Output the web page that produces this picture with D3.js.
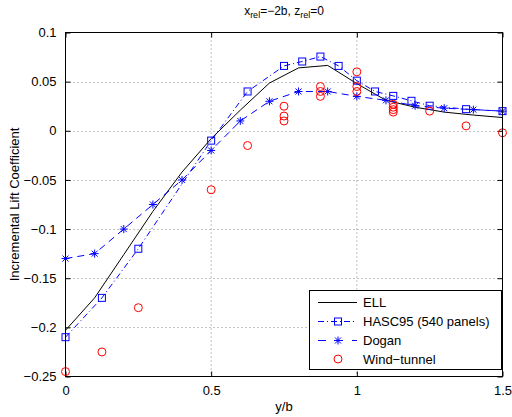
<!DOCTYPE html>
<html><head><meta charset="utf-8">
<script src="https://cdn.jsdelivr.net/npm/d3@7"></script>
<style>body{margin:0;background:#fff}svg{display:block;font-family:"Liberation Sans",Arial,sans-serif}</style>
</head><body>
<script>
const xTicks = [0, 0.5, 1, 1.5];
const yTicks = [0.1, 0.05, 0, -0.05, -0.1, -0.15, -0.2, -0.25];
const yTickLabels = ["0.1", "0.05", "0", "\u22120.05", "\u22120.1", "\u22120.15", "\u22120.2", "\u22120.25"];

const ellX = [0, 0.1, 0.2, 0.3, 0.4, 0.5, 0.6, 0.7, 0.8, 0.9, 1.0, 1.1, 1.2, 1.3, 1.4, 1.5];
const ellY = [-0.203, -0.170, -0.126, -0.082, -0.042, -0.008, 0.021, 0.0486, 0.064, 0.0665, 0.048, 0.031, 0.024, 0.019, 0.016, 0.0135];

const hascX = [0, 0.125, 0.25, 0.5, 0.625, 0.75, 0.8125, 0.875, 0.9375, 1.0, 1.0625, 1.125, 1.1875, 1.25, 1.375, 1.5];
const hascY = [-0.21, -0.17, -0.12, -0.01, 0.04, 0.066, 0.0705, 0.0755, 0.066, 0.051, 0.040, 0.0355, 0.0305, 0.0255, 0.022, 0.020];

const doganX = [0, 0.1, 0.2, 0.3, 0.4, 0.5, 0.6, 0.7, 0.8, 0.9, 1.0, 1.1, 1.2, 1.3, 1.4, 1.5];
const doganY = [-0.13, -0.125, -0.10, -0.075, -0.05, -0.02, 0.01, 0.03, 0.04, 0.04, 0.035, 0.031, 0.0255, 0.023, 0.0215, 0.020];

const windX = [0, 0.125, 0.25, 0.5, 0.625, 0.75, 0.75, 0.75, 0.875, 0.875, 0.875, 1.0, 1.0, 1.0, 1.125, 1.125, 1.125, 1.125, 1.25, 1.375, 1.5];
const windY = [-0.245, -0.225, -0.18, -0.06, -0.015, 0.025, 0.015, 0.01, 0.045, 0.04, 0.035, 0.06, 0.045, 0.04, 0.027, 0.024, 0.0215, 0.019, 0.02, 0.005, -0.002];

const legendLabels = ["ELL", "HASC95 (540 panels)", "Dogan", "Wind\u2212tunnel"];

const W = 512, H = 417;
const L = 65.5, R = 502.5, T = 32.5, B = 376.5;
const svg = d3.select("body").append("svg").attr("width", W).attr("height", H);
const x = d3.scaleLinear().domain([0, 1.5]).range([L, R]);
const y = d3.scaleLinear().domain([-0.25, 0.1]).range([B, T]);

// grid
const g = svg.append("g");
g.selectAll(".gx").data(xTicks.slice(1, -1)).enter().append("line")
  .attr("x1", d => x(d)).attr("x2", d => x(d)).attr("y1", T).attr("y2", B)
  .attr("stroke", "#888").attr("stroke-width", 1).attr("stroke-dasharray", "1,3");
g.selectAll(".gy").data(yTicks.slice(1, -1)).enter().append("line")
  .attr("x1", L).attr("x2", R).attr("y1", d => Math.round(y(d)) + 0.5).attr("y2", d => Math.round(y(d)) + 0.5)
  .attr("stroke", "#888").attr("stroke-width", 1).attr("stroke-dasharray", "1,3");

// axes (ticks inward)
const fs = 13;
const axB = d3.axisBottom(x).tickValues(xTicks).tickSize(-5).tickPadding(9).tickFormat(d3.format("~g"));
const axT = d3.axisTop(x).tickValues(xTicks).tickSize(-5).tickFormat("");
const axL = d3.axisLeft(y).tickValues(yTicks).tickSize(-5).tickPadding(9).tickFormat((d, i) => yTickLabels[i]);
const axR = d3.axisRight(y).tickValues(yTicks).tickSize(-5).tickFormat("");
[[axB, `translate(0,${B})`], [axT, `translate(0,${T})`], [axL, `translate(${L},0)`], [axR, `translate(${R},0)`]].forEach(([a, tr]) => {
  const gg = svg.append("g").attr("transform", tr).call(a);
  gg.select(".domain").remove();
  gg.selectAll("line").attr("stroke", "#000");
  gg.selectAll("text").attr("font-size", fs).attr("fill", "#000").attr("font-family", "Liberation Sans, Arial, sans-serif");
});

// lines
const line = (xs, ys) => d3.line().x((d, i) => x(xs[i])).y((d, i) => y(ys[i]))(ys);
svg.append("path").attr("d", line(ellX, ellY)).attr("fill", "none").attr("stroke", "#000").attr("stroke-width", 1);
svg.append("path").attr("d", line(hascX, hascY)).attr("fill", "none").attr("stroke", "#0000ff").attr("stroke-width", 1).attr("stroke-dasharray", "6,3,1,3");
svg.append("path").attr("d", line(doganX, doganY)).attr("fill", "none").attr("stroke", "#0000ff").attr("stroke-width", 1).attr("stroke-dasharray", "7,5");

// markers
const sq = 7, st = 4, cr = 4;
function square(sel, cx, cy) {
  sel.append("rect").attr("x", cx - sq / 2).attr("y", cy - sq / 2).attr("width", sq).attr("height", sq)
    .attr("fill", "none").attr("stroke", "#0000ff").attr("stroke-width", 1);
}
function star(sel, cx, cy) {
  const d = st * 0.75;
  sel.append("path").attr("d", `M${cx - st},${cy}H${cx + st}M${cx},${cy - st}V${cy + st}M${cx - d},${cy - d}L${cx + d},${cy + d}M${cx - d},${cy + d}L${cx + d},${cy - d}`)
    .attr("stroke", "#0000ff").attr("stroke-width", 1).attr("fill", "none");
}
function circ(sel, cx, cy) {
  sel.append("circle").attr("cx", cx).attr("cy", cy).attr("r", cr).attr("fill", "none").attr("stroke", "#ff0000").attr("stroke-width", 1);
}
const mk = svg.append("g");
hascX.forEach((v, i) => square(mk, x(v), y(hascY[i])));
doganX.forEach((v, i) => star(mk, x(v), y(doganY[i])));
windX.forEach((v, i) => circ(mk, x(v), y(windY[i])));

// frame
svg.append("rect").attr("x", L).attr("y", T).attr("width", R - L).attr("height", B - T)
  .attr("fill", "none").attr("stroke", "#000").attr("stroke-width", 1);

// legend
const lg = svg.append("g");
const lx0 = 309.5, ly0 = 290.5, lw = 192, lh = 79;
lg.append("rect").attr("x", lx0).attr("y", ly0).attr("width", lw).attr("height", lh).attr("fill", "#fff").attr("stroke", "#000").attr("stroke-width", 1);
const rows = [302.5, 321.5, 340.5, 359];
const s1 = 318, s2 = 357, sm = 338;
lg.append("line").attr("x1", s1).attr("x2", s2).attr("y1", rows[0]).attr("y2", rows[0]).attr("stroke", "#000");
lg.append("line").attr("x1", s1).attr("x2", s2).attr("y1", rows[1]).attr("y2", rows[1]).attr("stroke", "#0000ff").attr("stroke-dasharray", "6,3,1,3");
square(lg, sm, rows[1]);
lg.append("line").attr("x1", s1).attr("x2", s2).attr("y1", rows[2]).attr("y2", rows[2]).attr("stroke", "#0000ff").attr("stroke-dasharray", "8,9");
star(lg, sm, rows[2]);
circ(lg, sm, rows[3]);
lg.selectAll("text.lt").data(legendLabels).enter().append("text")
  .attr("x", 363).attr("y", (d, i) => rows[i]).attr("dy", "0.35em")
  .attr("font-size", fs).attr("fill", "#000").text(d => d);

// title
const title = svg.append("text").attr("x", (L + R) / 2).attr("y", 15).attr("text-anchor", "middle").attr("font-size", 12).attr("fill", "#000");
title.append("tspan").text("x");
title.append("tspan").attr("font-size", 9).attr("dy", 3).text("rel");
title.append("tspan").attr("dy", -3).text("=\u22122b, z");
title.append("tspan").attr("font-size", 9).attr("dy", 3).text("rel");
title.append("tspan").attr("dy", -3).text("=0");

// axis labels
svg.append("text").attr("x", (L + R) / 2).attr("y", 411).attr("text-anchor", "middle").attr("font-size", fs).attr("fill", "#000").text("y/b");
svg.append("text").attr("transform", `translate(19,${(T + B) / 2}) rotate(-90)`).attr("text-anchor", "middle").attr("font-size", fs).attr("fill", "#000").text("Incremental Lift Coefficient");
</script>
</body></html>
